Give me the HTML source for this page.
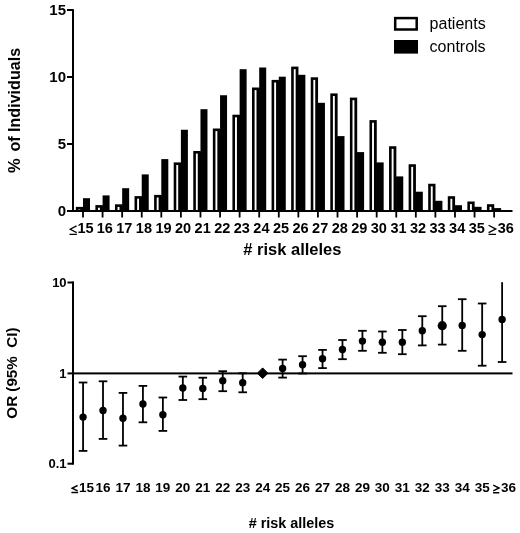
<!DOCTYPE html>
<html><head><meta charset="utf-8"><title>Risk alleles chart</title>
<style>html,body{margin:0;padding:0;background:#fff;width:520px;height:533px;overflow:hidden;position:relative;font-family:"Liberation Sans", sans-serif;}</style>
</head><body>
<svg width="520" height="533" viewBox="0 0 520 533" style="position:absolute;left:0;top:0;will-change:transform">
<rect width="520" height="533" fill="#fff"/>
<rect x="75.80" y="206.90" width="7.30" height="4.10" fill="#000"/>
<rect x="78.40" y="209.50" width="1.90" height="1.50" fill="#fff"/>
<rect x="83.00" y="198.20" width="7.0" height="12.80" fill="#000"/>
<rect x="82.40" y="207.40" width="1.2" height="3.60" fill="#000"/>
<rect x="95.38" y="205.10" width="7.30" height="5.90" fill="#000"/>
<rect x="97.98" y="207.70" width="1.90" height="3.30" fill="#fff"/>
<rect x="102.58" y="195.40" width="7.0" height="15.60" fill="#000"/>
<rect x="101.98" y="205.60" width="1.2" height="5.40" fill="#000"/>
<rect x="114.96" y="204.30" width="7.30" height="6.70" fill="#000"/>
<rect x="117.56" y="206.90" width="1.90" height="4.10" fill="#fff"/>
<rect x="122.16" y="188.20" width="7.0" height="22.80" fill="#000"/>
<rect x="121.56" y="204.80" width="1.2" height="6.20" fill="#000"/>
<rect x="134.53" y="196.10" width="7.30" height="14.90" fill="#000"/>
<rect x="137.13" y="198.70" width="1.90" height="12.30" fill="#fff"/>
<rect x="141.73" y="174.40" width="7.0" height="36.60" fill="#000"/>
<rect x="141.13" y="196.60" width="1.2" height="14.40" fill="#000"/>
<rect x="154.11" y="194.90" width="7.30" height="16.10" fill="#000"/>
<rect x="156.71" y="197.50" width="1.90" height="13.50" fill="#fff"/>
<rect x="161.31" y="159.10" width="7.0" height="51.90" fill="#000"/>
<rect x="160.71" y="195.40" width="1.2" height="15.60" fill="#000"/>
<rect x="173.69" y="162.40" width="7.30" height="48.60" fill="#000"/>
<rect x="176.29" y="165.00" width="1.90" height="46.00" fill="#fff"/>
<rect x="180.89" y="129.75" width="7.0" height="81.25" fill="#000"/>
<rect x="180.29" y="162.90" width="1.2" height="48.10" fill="#000"/>
<rect x="193.27" y="151.00" width="7.30" height="60.00" fill="#000"/>
<rect x="195.87" y="153.60" width="1.90" height="57.40" fill="#fff"/>
<rect x="200.47" y="109.20" width="7.0" height="101.80" fill="#000"/>
<rect x="199.87" y="151.50" width="1.2" height="59.50" fill="#000"/>
<rect x="212.85" y="128.50" width="7.30" height="82.50" fill="#000"/>
<rect x="215.45" y="131.10" width="1.90" height="79.90" fill="#fff"/>
<rect x="220.05" y="95.25" width="7.0" height="115.75" fill="#000"/>
<rect x="219.45" y="129.00" width="1.2" height="82.00" fill="#000"/>
<rect x="232.42" y="114.70" width="7.30" height="96.30" fill="#000"/>
<rect x="235.02" y="117.30" width="1.90" height="93.70" fill="#fff"/>
<rect x="239.62" y="69.20" width="7.0" height="141.80" fill="#000"/>
<rect x="239.02" y="115.20" width="1.2" height="95.80" fill="#000"/>
<rect x="252.00" y="87.50" width="7.30" height="123.50" fill="#000"/>
<rect x="254.60" y="90.10" width="1.90" height="120.90" fill="#fff"/>
<rect x="259.20" y="67.50" width="7.0" height="143.50" fill="#000"/>
<rect x="258.60" y="88.00" width="1.2" height="123.00" fill="#000"/>
<rect x="271.58" y="79.90" width="7.30" height="131.10" fill="#000"/>
<rect x="274.18" y="82.50" width="1.90" height="128.50" fill="#fff"/>
<rect x="278.78" y="76.70" width="7.0" height="134.30" fill="#000"/>
<rect x="278.18" y="80.40" width="1.2" height="130.60" fill="#000"/>
<rect x="291.16" y="66.60" width="7.30" height="144.40" fill="#000"/>
<rect x="293.76" y="69.20" width="1.90" height="141.80" fill="#fff"/>
<rect x="298.36" y="74.80" width="7.0" height="136.20" fill="#000"/>
<rect x="297.76" y="75.30" width="1.2" height="135.70" fill="#000"/>
<rect x="310.74" y="77.30" width="7.30" height="133.70" fill="#000"/>
<rect x="313.34" y="79.90" width="1.90" height="131.10" fill="#fff"/>
<rect x="317.94" y="102.80" width="7.0" height="108.20" fill="#000"/>
<rect x="317.34" y="103.30" width="1.2" height="107.70" fill="#000"/>
<rect x="330.31" y="93.40" width="7.30" height="117.60" fill="#000"/>
<rect x="332.91" y="96.00" width="1.90" height="115.00" fill="#fff"/>
<rect x="337.51" y="136.10" width="7.0" height="74.90" fill="#000"/>
<rect x="336.91" y="136.60" width="1.2" height="74.40" fill="#000"/>
<rect x="349.89" y="97.60" width="7.30" height="113.40" fill="#000"/>
<rect x="352.49" y="100.20" width="1.90" height="110.80" fill="#fff"/>
<rect x="357.09" y="152.10" width="7.0" height="58.90" fill="#000"/>
<rect x="356.49" y="152.60" width="1.2" height="58.40" fill="#000"/>
<rect x="369.47" y="120.10" width="7.30" height="90.90" fill="#000"/>
<rect x="372.07" y="122.70" width="1.90" height="88.30" fill="#fff"/>
<rect x="376.67" y="162.40" width="7.0" height="48.60" fill="#000"/>
<rect x="376.07" y="162.90" width="1.2" height="48.10" fill="#000"/>
<rect x="389.05" y="146.25" width="7.30" height="64.75" fill="#000"/>
<rect x="391.65" y="148.85" width="1.90" height="62.15" fill="#fff"/>
<rect x="396.25" y="176.40" width="7.0" height="34.60" fill="#000"/>
<rect x="395.65" y="176.90" width="1.2" height="34.10" fill="#000"/>
<rect x="408.63" y="164.25" width="7.30" height="46.75" fill="#000"/>
<rect x="411.23" y="166.85" width="1.90" height="44.15" fill="#fff"/>
<rect x="415.83" y="191.70" width="7.0" height="19.30" fill="#000"/>
<rect x="415.23" y="192.20" width="1.2" height="18.80" fill="#000"/>
<rect x="428.20" y="183.75" width="7.30" height="27.25" fill="#000"/>
<rect x="430.80" y="186.35" width="1.90" height="24.65" fill="#fff"/>
<rect x="435.40" y="200.80" width="7.0" height="10.20" fill="#000"/>
<rect x="434.80" y="201.30" width="1.2" height="9.70" fill="#000"/>
<rect x="447.78" y="196.20" width="7.30" height="14.80" fill="#000"/>
<rect x="450.38" y="198.80" width="1.90" height="12.20" fill="#fff"/>
<rect x="454.98" y="205.20" width="7.0" height="5.80" fill="#000"/>
<rect x="454.38" y="205.70" width="1.2" height="5.30" fill="#000"/>
<rect x="467.36" y="201.50" width="7.30" height="9.50" fill="#000"/>
<rect x="469.96" y="204.10" width="1.90" height="6.90" fill="#fff"/>
<rect x="474.56" y="206.80" width="7.0" height="4.20" fill="#000"/>
<rect x="473.96" y="207.30" width="1.2" height="3.70" fill="#000"/>
<rect x="486.94" y="204.20" width="7.30" height="6.80" fill="#000"/>
<rect x="489.54" y="206.80" width="1.90" height="4.20" fill="#fff"/>
<rect x="494.14" y="208.10" width="7.0" height="2.90" fill="#000"/>
<rect x="493.54" y="208.60" width="1.2" height="2.40" fill="#000"/>
<rect x="72" y="9.2" width="2" height="202" fill="#000"/>
<rect x="67" y="210" width="445.5" height="2" fill="#000"/>
<rect x="67" y="9" width="6" height="2" fill="#000"/>
<rect x="67" y="76" width="6" height="2" fill="#000"/>
<rect x="67" y="143" width="6" height="2" fill="#000"/>
<rect x="82.10" y="211" width="1.8" height="6.5" fill="#000"/>
<rect x="101.68" y="211" width="1.8" height="6.5" fill="#000"/>
<rect x="121.26" y="211" width="1.8" height="6.5" fill="#000"/>
<rect x="140.83" y="211" width="1.8" height="6.5" fill="#000"/>
<rect x="160.41" y="211" width="1.8" height="6.5" fill="#000"/>
<rect x="179.99" y="211" width="1.8" height="6.5" fill="#000"/>
<rect x="199.57" y="211" width="1.8" height="6.5" fill="#000"/>
<rect x="219.15" y="211" width="1.8" height="6.5" fill="#000"/>
<rect x="238.72" y="211" width="1.8" height="6.5" fill="#000"/>
<rect x="258.30" y="211" width="1.8" height="6.5" fill="#000"/>
<rect x="277.88" y="211" width="1.8" height="6.5" fill="#000"/>
<rect x="297.46" y="211" width="1.8" height="6.5" fill="#000"/>
<rect x="317.04" y="211" width="1.8" height="6.5" fill="#000"/>
<rect x="336.61" y="211" width="1.8" height="6.5" fill="#000"/>
<rect x="356.19" y="211" width="1.8" height="6.5" fill="#000"/>
<rect x="375.77" y="211" width="1.8" height="6.5" fill="#000"/>
<rect x="395.35" y="211" width="1.8" height="6.5" fill="#000"/>
<rect x="414.93" y="211" width="1.8" height="6.5" fill="#000"/>
<rect x="434.50" y="211" width="1.8" height="6.5" fill="#000"/>
<rect x="454.08" y="211" width="1.8" height="6.5" fill="#000"/>
<rect x="473.66" y="211" width="1.8" height="6.5" fill="#000"/>
<rect x="493.24" y="211" width="1.8" height="6.5" fill="#000"/>
<text x="66" y="15.4" text-anchor="end" font-family='"Liberation Sans", sans-serif' font-weight="bold" font-size="15">15</text>
<text x="66" y="82.4" text-anchor="end" font-family='"Liberation Sans", sans-serif' font-weight="bold" font-size="15">10</text>
<text x="66" y="149.4" text-anchor="end" font-family='"Liberation Sans", sans-serif' font-weight="bold" font-size="15">5</text>
<text x="66" y="216.4" text-anchor="end" font-family='"Liberation Sans", sans-serif' font-weight="bold" font-size="15">0</text>
<text x="104.78" y="233" text-anchor="middle" font-family='"Liberation Sans", sans-serif' font-weight="bold" font-size="14.5">16</text>
<text x="124.36" y="233" text-anchor="middle" font-family='"Liberation Sans", sans-serif' font-weight="bold" font-size="14.5">17</text>
<text x="143.93" y="233" text-anchor="middle" font-family='"Liberation Sans", sans-serif' font-weight="bold" font-size="14.5">18</text>
<text x="163.51" y="233" text-anchor="middle" font-family='"Liberation Sans", sans-serif' font-weight="bold" font-size="14.5">19</text>
<text x="183.09" y="233" text-anchor="middle" font-family='"Liberation Sans", sans-serif' font-weight="bold" font-size="14.5">20</text>
<text x="202.67" y="233" text-anchor="middle" font-family='"Liberation Sans", sans-serif' font-weight="bold" font-size="14.5">21</text>
<text x="222.25" y="233" text-anchor="middle" font-family='"Liberation Sans", sans-serif' font-weight="bold" font-size="14.5">22</text>
<text x="241.82" y="233" text-anchor="middle" font-family='"Liberation Sans", sans-serif' font-weight="bold" font-size="14.5">23</text>
<text x="261.40" y="233" text-anchor="middle" font-family='"Liberation Sans", sans-serif' font-weight="bold" font-size="14.5">24</text>
<text x="280.98" y="233" text-anchor="middle" font-family='"Liberation Sans", sans-serif' font-weight="bold" font-size="14.5">25</text>
<text x="300.56" y="233" text-anchor="middle" font-family='"Liberation Sans", sans-serif' font-weight="bold" font-size="14.5">26</text>
<text x="320.14" y="233" text-anchor="middle" font-family='"Liberation Sans", sans-serif' font-weight="bold" font-size="14.5">27</text>
<text x="339.71" y="233" text-anchor="middle" font-family='"Liberation Sans", sans-serif' font-weight="bold" font-size="14.5">28</text>
<text x="359.29" y="233" text-anchor="middle" font-family='"Liberation Sans", sans-serif' font-weight="bold" font-size="14.5">29</text>
<text x="378.87" y="233" text-anchor="middle" font-family='"Liberation Sans", sans-serif' font-weight="bold" font-size="14.5">30</text>
<text x="398.45" y="233" text-anchor="middle" font-family='"Liberation Sans", sans-serif' font-weight="bold" font-size="14.5">31</text>
<text x="418.03" y="233" text-anchor="middle" font-family='"Liberation Sans", sans-serif' font-weight="bold" font-size="14.5">32</text>
<text x="437.60" y="233" text-anchor="middle" font-family='"Liberation Sans", sans-serif' font-weight="bold" font-size="14.5">33</text>
<text x="457.18" y="233" text-anchor="middle" font-family='"Liberation Sans", sans-serif' font-weight="bold" font-size="14.5">34</text>
<text x="476.76" y="233" text-anchor="middle" font-family='"Liberation Sans", sans-serif' font-weight="bold" font-size="14.5">35</text>
<path d="M76.6 225.9 L70.2 229.3 L76.7 232.7 M69.5 234.3 H76.9" fill="none" stroke="#000" stroke-width="1.3"/>
<text x="85.45" y="233" text-anchor="middle" font-family='"Liberation Sans", sans-serif' font-weight="bold" font-size="14.5">15</text>
<path d="M488.6 225.3 L495.8 229.1 L488.6 232.7 M488.5 234.3 H496" fill="none" stroke="#000" stroke-width="1.3"/>
<text x="505.80" y="233" text-anchor="middle" font-family='"Liberation Sans", sans-serif' font-weight="bold" font-size="14.5">36</text>
<text x="292.4" y="254.6" text-anchor="middle" font-family='"Liberation Sans", sans-serif' font-weight="bold" font-size="16.5">#&#160;risk alleles</text>
<text transform="translate(19.7,172.9) rotate(-90)" text-anchor="start" font-family='"Liberation Sans", sans-serif' font-weight="bold" font-size="16.5">%</text>
<text transform="translate(19.7,151.6) rotate(-90)" text-anchor="start" font-family='"Liberation Sans", sans-serif' font-weight="bold" font-size="16.1">of Individuals</text>
<rect x="395.2" y="18.1" width="21.5" height="11.4" fill="#fff" stroke="#000" stroke-width="2.5"/>
<rect x="394" y="40" width="24" height="13.6" fill="#000"/>
<text x="429.6" y="29.2" font-family='"Liberation Sans", sans-serif' font-size="16">patients</text>
<text x="429.6" y="52.4" font-family='"Liberation Sans", sans-serif' font-size="16">controls</text>
<rect x="72" y="281.5" width="2" height="183" fill="#000"/>
<rect x="67.5" y="281.5" width="6" height="2" fill="#000"/>
<rect x="67.5" y="462.7" width="6" height="2" fill="#000"/>
<rect x="67.5" y="372.4" width="445" height="2" fill="#000"/>
<rect x="82.16" y="382.50" width="1.8" height="68.40" fill="#000"/>
<rect x="78.76" y="381.60" width="8.6" height="1.8" fill="#000"/>
<rect x="78.76" y="450.00" width="8.6" height="1.8" fill="#000"/>
<circle cx="83.06" cy="417.10" r="3.7" fill="#000"/>
<rect x="102.11" y="381.30" width="1.8" height="57.60" fill="#000"/>
<rect x="98.72" y="380.40" width="8.6" height="1.8" fill="#000"/>
<rect x="98.72" y="438.00" width="8.6" height="1.8" fill="#000"/>
<circle cx="103.02" cy="410.50" r="3.7" fill="#000"/>
<rect x="122.07" y="392.90" width="1.8" height="52.70" fill="#000"/>
<rect x="118.67" y="392.00" width="8.6" height="1.8" fill="#000"/>
<rect x="118.67" y="444.70" width="8.6" height="1.8" fill="#000"/>
<circle cx="122.97" cy="418.30" r="3.7" fill="#000"/>
<rect x="142.03" y="385.90" width="1.8" height="36.40" fill="#000"/>
<rect x="138.62" y="385.00" width="8.6" height="1.8" fill="#000"/>
<rect x="138.62" y="421.40" width="8.6" height="1.8" fill="#000"/>
<circle cx="142.93" cy="404.00" r="3.7" fill="#000"/>
<rect x="161.98" y="397.50" width="1.8" height="33.40" fill="#000"/>
<rect x="158.58" y="396.60" width="8.6" height="1.8" fill="#000"/>
<rect x="158.58" y="430.00" width="8.6" height="1.8" fill="#000"/>
<circle cx="162.88" cy="414.80" r="3.7" fill="#000"/>
<rect x="181.93" y="376.60" width="1.8" height="23.40" fill="#000"/>
<rect x="178.53" y="375.70" width="8.6" height="1.8" fill="#000"/>
<rect x="178.53" y="399.10" width="8.6" height="1.8" fill="#000"/>
<circle cx="182.83" cy="388.00" r="3.7" fill="#000"/>
<rect x="201.89" y="377.70" width="1.8" height="21.50" fill="#000"/>
<rect x="198.49" y="376.80" width="8.6" height="1.8" fill="#000"/>
<rect x="198.49" y="398.30" width="8.6" height="1.8" fill="#000"/>
<circle cx="202.79" cy="388.50" r="3.7" fill="#000"/>
<rect x="221.84" y="371.20" width="1.8" height="20.00" fill="#000"/>
<rect x="218.44" y="370.30" width="8.6" height="1.8" fill="#000"/>
<rect x="218.44" y="390.30" width="8.6" height="1.8" fill="#000"/>
<circle cx="222.75" cy="380.80" r="3.7" fill="#000"/>
<rect x="241.80" y="373.30" width="1.8" height="19.00" fill="#000"/>
<rect x="238.40" y="372.40" width="8.6" height="1.8" fill="#000"/>
<rect x="238.40" y="391.40" width="8.6" height="1.8" fill="#000"/>
<circle cx="242.70" cy="382.70" r="3.7" fill="#000"/>
<path d="M262.65 367.90 L267.95 373.20 L262.65 378.50 L257.35 373.20Z" fill="#000" stroke="#000" stroke-width="1" stroke-linejoin="round"/>
<rect x="281.71" y="359.60" width="1.8" height="18.00" fill="#000"/>
<rect x="278.31" y="358.70" width="8.6" height="1.8" fill="#000"/>
<rect x="278.31" y="376.70" width="8.6" height="1.8" fill="#000"/>
<circle cx="282.61" cy="368.40" r="3.7" fill="#000"/>
<rect x="301.67" y="356.20" width="1.8" height="17.30" fill="#000"/>
<rect x="298.26" y="355.30" width="8.6" height="1.8" fill="#000"/>
<rect x="298.26" y="372.60" width="8.6" height="1.8" fill="#000"/>
<circle cx="302.56" cy="364.70" r="3.7" fill="#000"/>
<rect x="321.62" y="349.90" width="1.8" height="18.20" fill="#000"/>
<rect x="318.22" y="349.00" width="8.6" height="1.8" fill="#000"/>
<rect x="318.22" y="367.20" width="8.6" height="1.8" fill="#000"/>
<circle cx="322.52" cy="358.80" r="3.7" fill="#000"/>
<rect x="341.57" y="340.00" width="1.8" height="19.20" fill="#000"/>
<rect x="338.17" y="339.10" width="8.6" height="1.8" fill="#000"/>
<rect x="338.17" y="358.30" width="8.6" height="1.8" fill="#000"/>
<circle cx="342.47" cy="349.50" r="3.7" fill="#000"/>
<rect x="361.53" y="330.80" width="1.8" height="20.00" fill="#000"/>
<rect x="358.13" y="329.90" width="8.6" height="1.8" fill="#000"/>
<rect x="358.13" y="349.90" width="8.6" height="1.8" fill="#000"/>
<circle cx="362.43" cy="341.10" r="3.7" fill="#000"/>
<rect x="381.49" y="331.50" width="1.8" height="21.30" fill="#000"/>
<rect x="378.08" y="330.60" width="8.6" height="1.8" fill="#000"/>
<rect x="378.08" y="351.90" width="8.6" height="1.8" fill="#000"/>
<circle cx="382.38" cy="342.30" r="3.7" fill="#000"/>
<rect x="401.44" y="330.00" width="1.8" height="24.20" fill="#000"/>
<rect x="398.04" y="329.10" width="8.6" height="1.8" fill="#000"/>
<rect x="398.04" y="353.30" width="8.6" height="1.8" fill="#000"/>
<circle cx="402.34" cy="342.30" r="3.7" fill="#000"/>
<rect x="421.39" y="316.20" width="1.8" height="29.20" fill="#000"/>
<rect x="417.99" y="315.30" width="8.6" height="1.8" fill="#000"/>
<rect x="417.99" y="344.50" width="8.6" height="1.8" fill="#000"/>
<circle cx="422.29" cy="330.80" r="3.7" fill="#000"/>
<rect x="441.35" y="306.20" width="1.8" height="38.40" fill="#000"/>
<rect x="437.95" y="305.30" width="8.6" height="1.8" fill="#000"/>
<rect x="437.95" y="343.70" width="8.6" height="1.8" fill="#000"/>
<circle cx="442.25" cy="325.70" r="4.6" fill="#000"/>
<rect x="461.31" y="299.20" width="1.8" height="51.60" fill="#000"/>
<rect x="457.90" y="298.30" width="8.6" height="1.8" fill="#000"/>
<rect x="457.90" y="349.90" width="8.6" height="1.8" fill="#000"/>
<circle cx="462.20" cy="325.40" r="3.7" fill="#000"/>
<rect x="481.26" y="303.50" width="1.8" height="62.20" fill="#000"/>
<rect x="477.86" y="302.60" width="8.6" height="1.8" fill="#000"/>
<rect x="477.86" y="364.80" width="8.6" height="1.8" fill="#000"/>
<circle cx="482.16" cy="334.60" r="3.7" fill="#000"/>
<rect x="501.21" y="282.20" width="1.8" height="79.80" fill="#000"/>
<rect x="497.81" y="361.10" width="8.6" height="1.8" fill="#000"/>
<circle cx="502.11" cy="319.40" r="3.7" fill="#000"/>
<text x="66.6" y="287.1" text-anchor="end" font-family='"Liberation Sans", sans-serif' font-weight="bold" font-size="13">10</text>
<text x="66.6" y="377.7" text-anchor="end" font-family='"Liberation Sans", sans-serif' font-weight="bold" font-size="13">1</text>
<text x="66.6" y="468.3" text-anchor="end" font-family='"Liberation Sans", sans-serif' font-weight="bold" font-size="13">0.1</text>
<text x="103.02" y="491.8" text-anchor="middle" font-family='"Liberation Sans", sans-serif' font-weight="bold" font-size="13.5">16</text>
<text x="122.97" y="491.8" text-anchor="middle" font-family='"Liberation Sans", sans-serif' font-weight="bold" font-size="13.5">17</text>
<text x="142.93" y="491.8" text-anchor="middle" font-family='"Liberation Sans", sans-serif' font-weight="bold" font-size="13.5">18</text>
<text x="162.88" y="491.8" text-anchor="middle" font-family='"Liberation Sans", sans-serif' font-weight="bold" font-size="13.5">19</text>
<text x="182.83" y="491.8" text-anchor="middle" font-family='"Liberation Sans", sans-serif' font-weight="bold" font-size="13.5">20</text>
<text x="202.79" y="491.8" text-anchor="middle" font-family='"Liberation Sans", sans-serif' font-weight="bold" font-size="13.5">21</text>
<text x="222.75" y="491.8" text-anchor="middle" font-family='"Liberation Sans", sans-serif' font-weight="bold" font-size="13.5">22</text>
<text x="242.70" y="491.8" text-anchor="middle" font-family='"Liberation Sans", sans-serif' font-weight="bold" font-size="13.5">23</text>
<text x="262.65" y="491.8" text-anchor="middle" font-family='"Liberation Sans", sans-serif' font-weight="bold" font-size="13.5">24</text>
<text x="282.61" y="491.8" text-anchor="middle" font-family='"Liberation Sans", sans-serif' font-weight="bold" font-size="13.5">25</text>
<text x="302.56" y="491.8" text-anchor="middle" font-family='"Liberation Sans", sans-serif' font-weight="bold" font-size="13.5">26</text>
<text x="322.52" y="491.8" text-anchor="middle" font-family='"Liberation Sans", sans-serif' font-weight="bold" font-size="13.5">27</text>
<text x="342.47" y="491.8" text-anchor="middle" font-family='"Liberation Sans", sans-serif' font-weight="bold" font-size="13.5">28</text>
<text x="362.43" y="491.8" text-anchor="middle" font-family='"Liberation Sans", sans-serif' font-weight="bold" font-size="13.5">29</text>
<text x="382.38" y="491.8" text-anchor="middle" font-family='"Liberation Sans", sans-serif' font-weight="bold" font-size="13.5">30</text>
<text x="402.34" y="491.8" text-anchor="middle" font-family='"Liberation Sans", sans-serif' font-weight="bold" font-size="13.5">31</text>
<text x="422.29" y="491.8" text-anchor="middle" font-family='"Liberation Sans", sans-serif' font-weight="bold" font-size="13.5">32</text>
<text x="442.25" y="491.8" text-anchor="middle" font-family='"Liberation Sans", sans-serif' font-weight="bold" font-size="13.5">33</text>
<text x="462.20" y="491.8" text-anchor="middle" font-family='"Liberation Sans", sans-serif' font-weight="bold" font-size="13.5">34</text>
<text x="482.16" y="491.8" text-anchor="middle" font-family='"Liberation Sans", sans-serif' font-weight="bold" font-size="13.5">35</text>
<path d="M77.6 485.5 L72.1 488.2 L77.6 490.9 M71.4 492.5 H78.1" fill="none" stroke="#000" stroke-width="1.4"/>
<text x="86.60" y="491.8" text-anchor="middle" font-family='"Liberation Sans", sans-serif' font-weight="bold" font-size="13.5">15</text>
<path d="M493.2 485.2 L499.1 488 L493.2 490.9 M493.1 492.7 H499.3" fill="none" stroke="#000" stroke-width="1.4"/>
<text x="508.45" y="491.8" text-anchor="middle" font-family='"Liberation Sans", sans-serif' font-weight="bold" font-size="13.5">36</text>
<text x="291.5" y="527.6" text-anchor="middle" font-family='"Liberation Sans", sans-serif' font-weight="bold" font-size="14.4">#&#160;risk alleles</text>
<text transform="translate(17,373.1) rotate(-90)" text-anchor="middle" font-family='"Liberation Sans", sans-serif' font-weight="bold" font-size="15.2" xml:space="preserve">OR (95%  CI)</text>
</svg>
</body></html>
